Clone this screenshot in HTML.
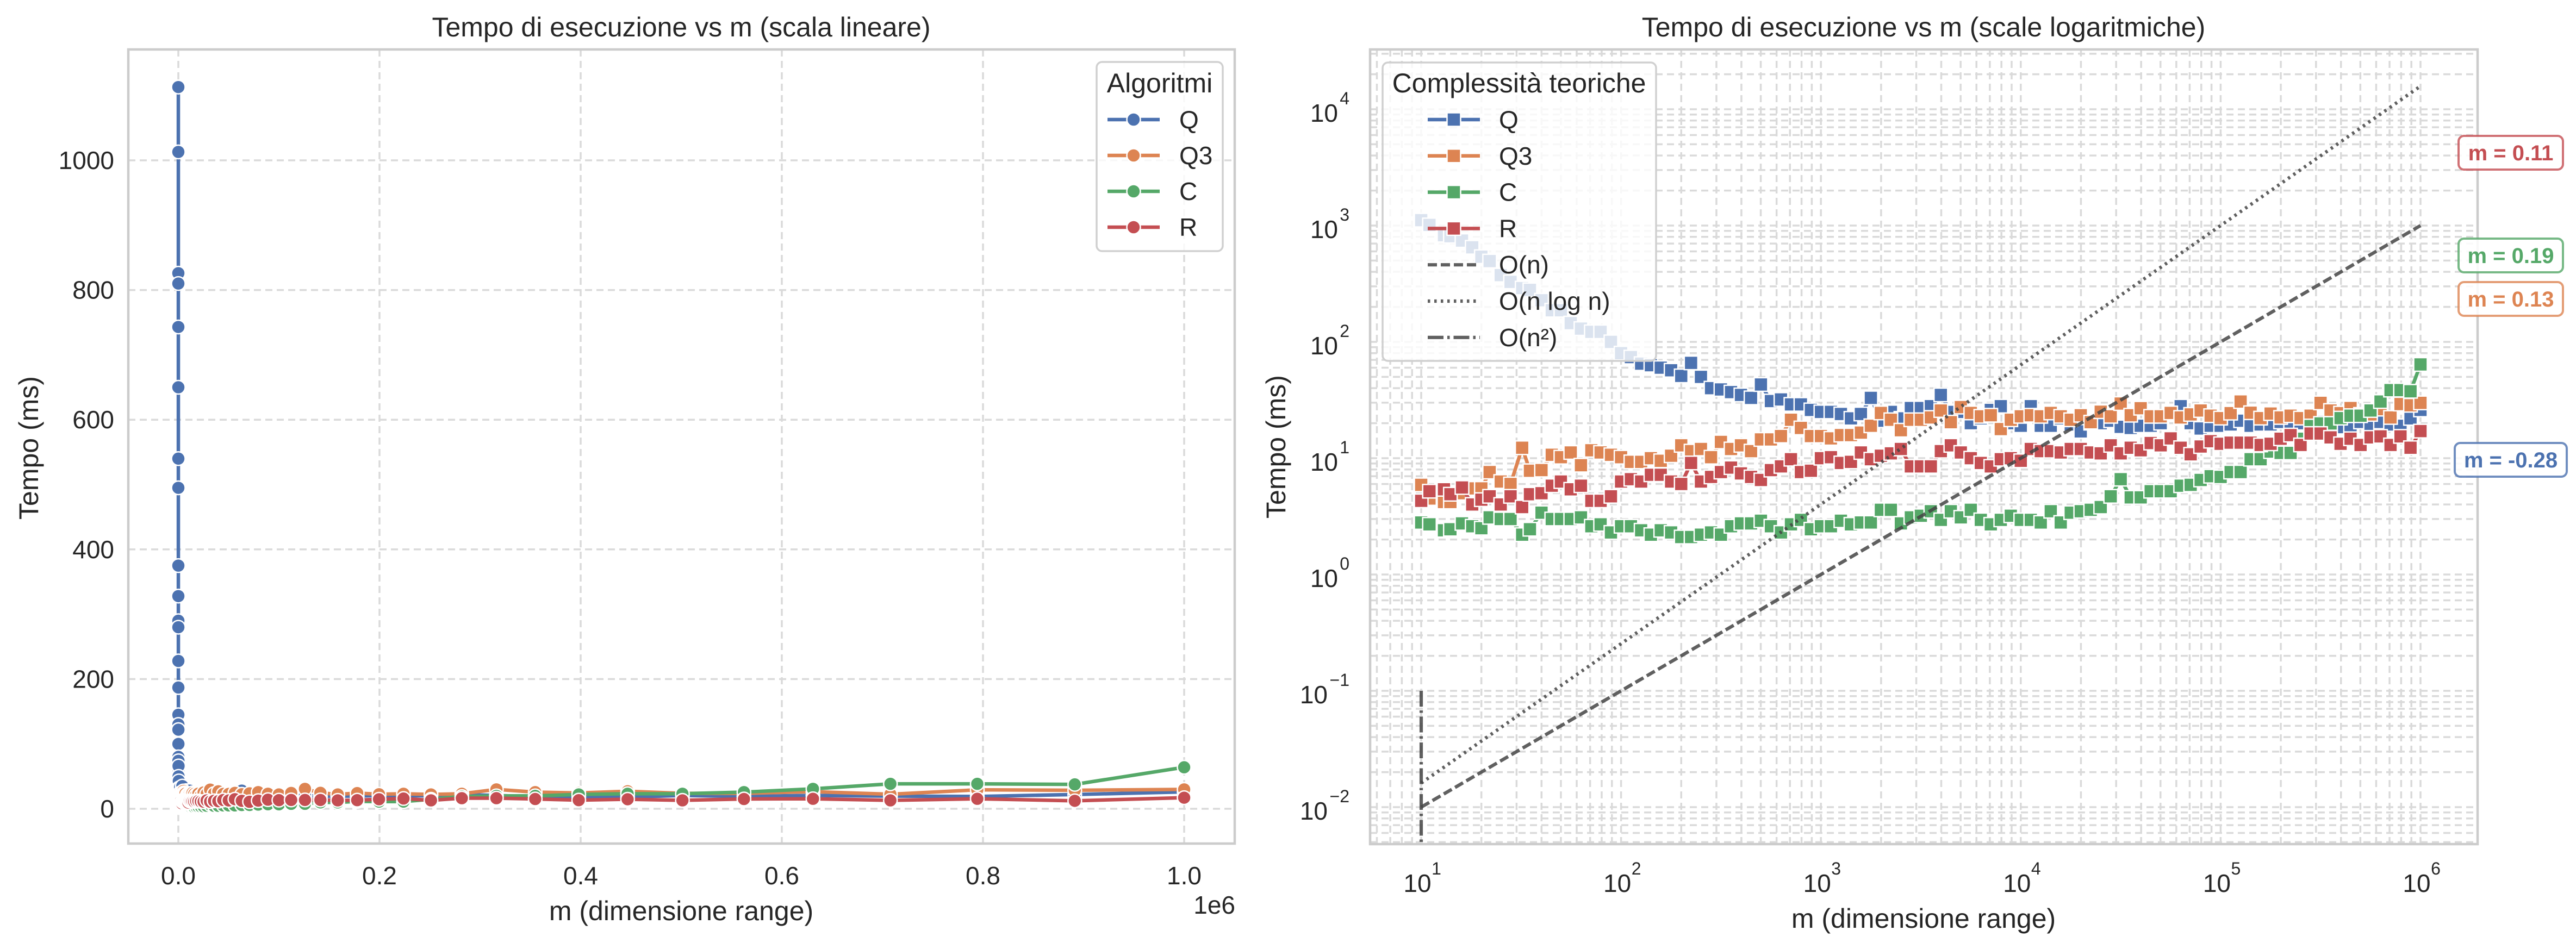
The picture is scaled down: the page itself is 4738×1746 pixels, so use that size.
<!DOCTYPE html>
<html><head><meta charset="utf-8"><style>
html,body{margin:0;padding:0;background:#fff;}
svg{display:block;font-family:"Liberation Sans",Arial,sans-serif;}
</style></head><body>
<svg id="fig" width="4738" height="1746" viewBox="0 0 4738 1746" xmlns="http://www.w3.org/2000/svg">
<defs>
<clipPath id="clipL"><rect x="236" y="91" width="2035" height="1461"/></clipPath>
<clipPath id="clipR"><rect x="2520" y="91" width="2037" height="1462"/></clipPath>
</defs>
<rect x="0" y="0" width="4738" height="1746" fill="#fff"/>
<g id="left"></g>
<g id="right"></g>
</svg>
<script>
// ---- data ----
const seriesNames = ["Q","Q3","C","R"];
const seriesColors = ["#4C72B0","#DD8452","#55A868","#C44E52"];
const mExponents = Array.from({length:101},(_,i)=>1+i*0.05);
const mValues = mExponents.map(e=>Math.round(Math.pow(10,e)));
const qTimes = [1113,1013,826,810,743,650,540,495,375,328,290,280,228,187,187,145,130,122,122,100,80,74,65,63,60,
57,51,66,50,40,39,37,35,33,43,31,32,29,29,26,25,25,24,22,24,33,21,25,22,27,
27,28,35,25,25,20,22,26,28,20,19,28,19,19,22,19.5,17,20,20,21,18.6,18.2,19,19,20,25,
28,20,18,19,19,19.5,21,19,19.5,19.5,20.5,20,20,22,20.5,18.5,18.5,18,20.5,19,20.5,19.5,19,22,26];
const q3Times = [5.9,4.5,4.2,4.2,5.0,5.5,5.5,7.6,6.3,6.0,12.3,7.8,7.9,10.7,10.2,11.2,8.7,11.7,11.2,10.7,10.2,9.3,9.3,10,9.5,
10.5,12.9,11.5,12,10.2,13.8,12,12.9,11.5,14.5,14.5,15.5,21.4,18.2,15.5,15.5,14.8,15.8,15.8,16.6,19,24.5,21.4,17.4,21.4,
21.4,22.4,25.7,20.4,27.5,24.5,22.9,23.4,17.8,21.4,22.9,23.4,22.9,24.5,22.9,21.4,23.4,20.4,25.1,22.9,29.5,23.4,26.9,22.9,22.9,24.5,
22.4,23.8,25.7,23.2,22.1,24.4,30.7,24.6,22.1,24.2,22.4,23.2,22.1,23.2,29.9,25.7,24.4,27,23.8,23.8,26.4,22.4,29.2,28.5,29.9];
const cTimes = [2.8,2.7,2.4,2.45,2.75,2.6,2.5,3.1,3.0,3.0,2.2,2.45,3.4,3.0,3.0,3.0,3.1,2.6,2.7,2.3,2.6,2.6,2.4,2.2,2.4,
2.3,2.1,2.1,2.2,2.3,2.2,2.6,2.75,2.75,2.9,2.6,2.3,2.7,2.95,2.45,2.6,2.6,2.9,2.7,2.8,2.8,3.6,3.6,2.75,3.1,
3.2,3.5,2.95,3.5,3.1,3.6,2.95,2.7,2.95,3.2,2.95,2.95,2.8,3.5,2.8,3.4,3.5,3.6,3.8,4.7,6.6,4.6,4.6,5.2,5.2,5.2,
5.8,5.9,6.5,7,6.9,7.6,7.6,9.8,9.8,11.4,11.1,11.1,14.7,18.9,19.9,19.9,22.1,23.2,23.2,25.7,30.7,38.5,38.5,37.6,64];
const rTimes = [4.3,5.2,5.4,4.9,5.6,4.0,4.4,4.7,4.0,4.7,3.8,4.9,5.0,5.8,6.3,5.4,5.8,4.3,4.3,4.7,6.3,6.6,6.3,7.2,7.2,
6.3,6.0,9.1,6.3,6.9,7.6,8.3,7.4,6.9,6.5,7.9,8.5,9.8,7.6,7.8,10,10.2,9.1,9.3,11.2,9.8,10.5,11,12,8.5,
8.5,8.5,11.5,12.9,11.2,10,9.1,8.5,9.8,10,9.5,12,11.5,11.5,11.2,12,12,11.2,11,12.9,11,12.3,11.7,13.5,12.9,14.8,
12.3,10.8,12.6,14,13.3,13.6,13.6,13.6,13,13.3,14.7,15.8,13,16.3,16.3,15.1,13.3,14.7,13,15.1,15.4,13,15.4,12.3,17.1];
const allTimes = [qTimes,q3Times,cTimes,rTimes];
const slopeLabels = ["m = -0.28","m = 0.13","m = 0.19","m = 0.11"];
const slopeCenterY = [846,550,470,281];
const refNames = ["O(n)","O(n log n)","O(n²)"];
const refX = [[10,1000000],[10,1000000],[10,10]];
const refY = [[0.01,1000],[0.0161,15800],[0.1,0.001]];
const refDash = ["17,7","4.5,7.5","29,7,4.5,7"];
const linXTicks = [0,0.2,0.4,0.6,0.8,1.0];
const linYTicks = [0,200,400,600,800,1000];
const logXTicks = [1,2,3,4,5,6];
const logYTicks = [-2,-1,0,1,2,3,4];

// ---- scales ----
const LX = m => 328 + m/1e6*1850;
const LY = v => 1488 - v*1.193;
const RX = m => 2614 + (Math.log10(m)-1)*367.6;
const RY = v => 1485 - (Math.log10(v)+2)*214;

const NS="http://www.w3.org/2000/svg";
function el(tag, attrs, parent){const e=document.createElementNS(NS,tag);for(const k in attrs)e.setAttribute(k,attrs[k]);parent.appendChild(e);return e;}
const TXT="#262626", GRID="#dadada", SPINE="#cccccc";
const LW=6.5, CR=12.5, SQ=25;

// ================= LEFT =================
const L=document.getElementById('left');
const lt=el('text',{x:1253,y:50,'font-size':50,fill:TXT,'text-anchor':'middle','dominant-baseline':'central'},L);
lt.textContent="Tempo di esecuzione vs m (scala lineare)";


const lgrid=el('g',{stroke:GRID,'stroke-width':3.5,'stroke-dasharray':'13,8'},L);


linXTicks.forEach(t=>{
  const x=LX(t*1e6);
  el('line',{x1:x,x2:x,y1:91,y2:1552},lgrid);
  const tx=el('text',{x:x,y:1611,'font-size':46,fill:TXT,'text-anchor':'middle','dominant-baseline':'central'},L);
  tx.textContent=t.toFixed(1);
  
  
});
linYTicks.forEach(t=>{
  const y=LY(t);
  el('line',{x1:236,x2:2271,y1:y,y2:y},lgrid);
  const tx=el('text',{x:210,y:y,'font-size':46,fill:TXT,'text-anchor':'end','dominant-baseline':'central'},L);
  tx.textContent=String(t);
  
  
});
const lplot=el('g',{'clip-path':'url(#clipL)'},L);
allTimes.forEach((vals,s)=>{
  const g=el('g',{},lplot);
  
  
  const pts=vals.map((v,i)=>LX(mValues[i])+','+LY(v)).join(' ');
  el('polyline',{points:pts,fill:'none',stroke:seriesColors[s],'stroke-width':LW,'stroke-linejoin':'round'},g);
  vals.forEach((v,i)=>{
    const c=el('circle',{cx:LX(mValues[i]),cy:LY(v),r:CR,fill:seriesColors[s],stroke:'#fff','stroke-width':2.5},g);
    
    
  });
});
const lspine=el('rect',{x:236,y:91,width:2035,height:1461,fill:'none',stroke:SPINE,'stroke-width':4.5},L);


const lxl=el('text',{x:1253,y:1676,'font-size':50,fill:TXT,'text-anchor':'middle','dominant-baseline':'central'},L);
lxl.textContent="m (dimensione range)";


const lexp=el('text',{x:2272,y:1665,'font-size':46,fill:TXT,'text-anchor':'end','dominant-baseline':'central'},L);
lexp.textContent="1e6";


const lyl=el('text',{x:53,y:824,'font-size':50,fill:TXT,'text-anchor':'middle','dominant-baseline':'central',transform:'rotate(-90 53 824)'},L);
lyl.textContent="Tempo (ms)";


// left legend
const lleg=el('g',{},L);


el('rect',{x:2017,y:114,width:232,height:348,rx:10,fill:'#fff','fill-opacity':0.8,stroke:'#d0d0d0','stroke-width':3.5},lleg);
const llt=el('text',{x:2133,y:153,'font-size':50,fill:TXT,'text-anchor':'middle','dominant-baseline':'central'},lleg);
llt.textContent="Algoritmi";


seriesNames.forEach((n,s)=>{
  const y=220+s*66;
  const e=el('g',{},lleg);
  
  
  el('line',{x1:2037,x2:2133,y1:y,y2:y,stroke:seriesColors[s],'stroke-width':LW},e);
  el('circle',{cx:2085,cy:y,r:CR,fill:seriesColors[s],stroke:'#fff','stroke-width':2.5},e);
  const t=el('text',{x:2169,y:y,'font-size':46,fill:TXT,'dominant-baseline':'central'},e);
  t.textContent=n;
});

// ================= RIGHT =================
const R=document.getElementById('right');
const rt=el('text',{x:3538,y:50,'font-size':50,fill:TXT,'text-anchor':'middle','dominant-baseline':'central'},R);
rt.textContent="Tempo di esecuzione vs m (scale logaritmiche)";


const rgrid=el('g',{stroke:GRID,'stroke-width':3.5,'stroke-dasharray':'13,8','clip-path':'url(#clipR)'},R);


for(let d=0; d<=6; d++){for(let k=1;k<=9;k++){
  const x=RX(k*Math.pow(10,d)); if(x<2520||x>4557) continue;
  el('line',{x1:x,x2:x,y1:91,y2:1553},rgrid);
}}
for(let d=-3; d<=4; d++){for(let k=1;k<=9;k++){
  const y=RY(k*Math.pow(10,d)); if(y<91||y>1553) continue;
  el('line',{x1:2520,x2:4557,y1:y,y2:y},rgrid);
}}
logXTicks.forEach(p=>{
  const x=RX(Math.pow(10,p));
  const t=el('text',{x:x-7,y:1625,'font-size':46,fill:TXT,'text-anchor':'middle','dominant-baseline':'central'},R);
  
  
  t.textContent="10";
  const s=el('text',{x:x+28,y:1598,'font-size':32,fill:TXT,'text-anchor':'middle','dominant-baseline':'central'},R);
  s.textContent=String(p);
});
logYTicks.forEach(p=>{
  const y=RY(Math.pow(10,p));
  const sup=(p<0?"−":"")+Math.abs(p);
  const s=el('text',{x:2482,y:y-20,'font-size':32,fill:TXT,'text-anchor':'end','dominant-baseline':'central'},R);
  s.textContent=sup;
  const w = p<0?38:19;
  const t=el('text',{x:2482-w-2,y:y+7,'font-size':46,fill:TXT,'text-anchor':'end','dominant-baseline':'central'},R);
  
  
  t.textContent="10";
});
const rplot=el('g',{'clip-path':'url(#clipR)'},R);
allTimes.forEach((vals,s)=>{
  const g=el('g',{},rplot);
  
  
  const pts=vals.map((v,i)=>RX(mValues[i])+','+RY(v)).join(' ');
  el('polyline',{points:pts,fill:'none',stroke:seriesColors[s],'stroke-width':LW,'stroke-linejoin':'round'},g);
  vals.forEach((v,i)=>{
    const r=el('rect',{x:RX(mValues[i])-SQ/2,y:RY(v)-SQ/2,width:SQ,height:SQ,fill:seriesColors[s],stroke:'#fff','stroke-width':2.5},g);
    
    
  });
});
refNames.forEach((n,k)=>{
  const ln=el('polyline',{points:refX[k].map((x,j)=>RX(x)+','+RY(refY[k][j])).join(' '),fill:'none',stroke:'#444','stroke-opacity':0.85,'stroke-width':6.2,'stroke-dasharray':refDash[k]},rplot);
  
  
});
const rspine=el('rect',{x:2520,y:91,width:2037,height:1462,fill:'none',stroke:SPINE,'stroke-width':4.5},R);


const rxl=el('text',{x:3538,y:1690,'font-size':50,fill:TXT,'text-anchor':'middle','dominant-baseline':'central'},R);
rxl.textContent="m (dimensione range)";


const ryl=el('text',{x:2347,y:822,'font-size':50,fill:TXT,'text-anchor':'middle','dominant-baseline':'central',transform:'rotate(-90 2347 822)'},R);
ryl.textContent="Tempo (ms)";


// right legend
const rleg=el('g',{},R);


el('rect',{x:2543,y:115,width:503,height:549,rx:10,fill:'#fff','fill-opacity':0.8,stroke:'#d0d0d0','stroke-width':3.5},rleg);
const rlt=el('text',{x:2794,y:153,'font-size':50,fill:TXT,'text-anchor':'middle','dominant-baseline':'central'},rleg);
rlt.textContent="Complessità teoriche";


seriesNames.concat(refNames).forEach((n,k)=>{
  const y=220+k*66.8;
  const e=el('g',{},rleg);
  
  
  if(k<4){
    el('line',{x1:2626,x2:2722,y1:y,y2:y,stroke:seriesColors[k],'stroke-width':LW},e);
    el('rect',{x:2674-SQ/2,y:y-SQ/2,width:SQ,height:SQ,fill:seriesColors[k],stroke:'#fff','stroke-width':2.5},e);
  } else {
    el('line',{x1:2626,x2:2722,y1:y,y2:y,stroke:'#444','stroke-opacity':0.85,'stroke-width':6.2,'stroke-dasharray':refDash[k-4]},e);
  }
  const t=el('text',{x:2757,y:y,'font-size':46,fill:TXT,'dominant-baseline':'central'},e);
  t.textContent=n;
});
// slope annotations
slopeLabels.forEach((lab,s)=>{
  const cy=slopeCenterY[s];
  const g=el('g',{},R);
  
  
  const w = lab.length>8?206:192;
  const x0 = 4618 - w/2;
  el('rect',{x:x0,y:cy-31,width:w,height:62,rx:10,fill:'#fff','fill-opacity':0.85,stroke:seriesColors[s],'stroke-opacity':0.8,'stroke-width':4},g);
  const t=el('text',{x:x0+w/2,y:cy+1,'font-size':40,'font-weight':'bold',fill:seriesColors[s],'text-anchor':'middle','dominant-baseline':'central'},g);
  t.textContent=lab;
});
</script>
</body></html>
